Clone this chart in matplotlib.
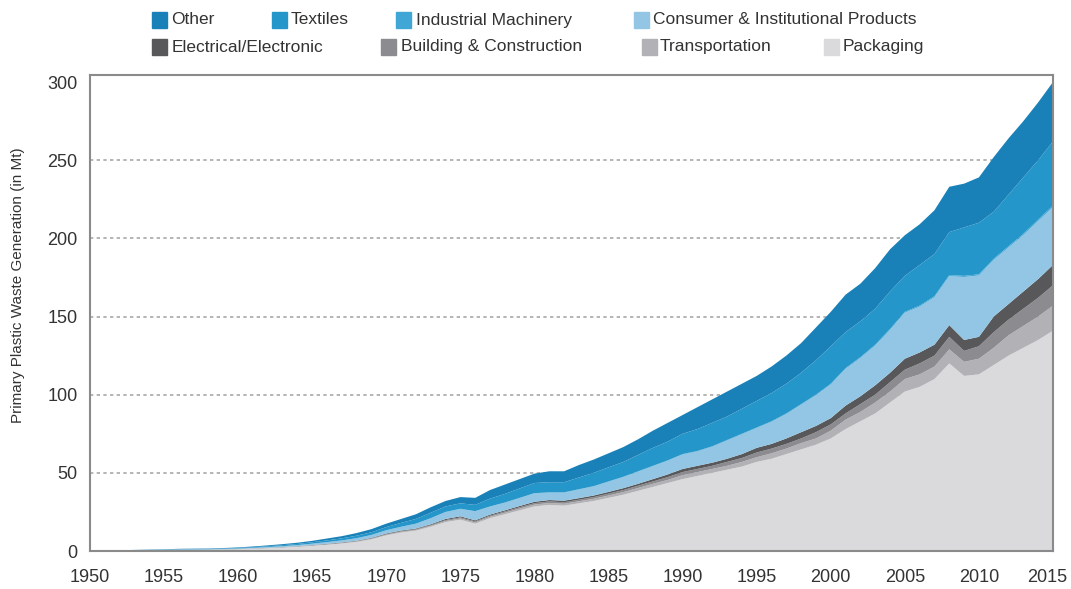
import matplotlib
matplotlib.use("Agg")
import matplotlib.pyplot as plt
from matplotlib.patches import Rectangle
from matplotlib.transforms import ScaledTranslation

plt.rcParams['font.family'] = ['Liberation Sans', 'DejaVu Sans']

years = list(range(1950, 2016))

# Mt per sector
packaging = [0.15, 0.2, 0.25, 0.35, 0.45, 0.55, 0.7, 0.75, 0.8, 0.95,
             1.15, 1.45, 1.8, 2.2, 2.7, 3.3, 4.0, 4.8, 5.8, 7.5,
             10.0, 11.8, 13.0, 15.5, 18.5, 20.0, 17.5, 21.0, 23.5, 26.0,
             28.5, 29.5, 29.0, 30.5, 32.0, 34.0, 36.0, 38.5, 41.0, 43.5,
             46.0, 48.0, 50.0, 52.0, 54.0, 57.0, 59.0, 62.0, 65.0, 68.0,
             72.0, 78.0, 83.0, 88.0, 95.0, 102.0, 105.0, 110.0, 120.0, 112.0,
             113.0, 119.0, 125.0, 130.0, 135.0, 141.0]
transportation = [0.01, 0.01, 0.02, 0.02, 0.03, 0.03, 0.04, 0.05, 0.05, 0.05,
                  0.07, 0.08, 0.1, 0.13, 0.15, 0.2, 0.2, 0.2, 0.3, 0.3,
                  0.4, 0.5, 0.5, 0.6, 0.7, 0.8, 0.8, 0.9, 1.0, 1.1,
                  1.2, 1.2, 1.2, 1.3, 1.4, 1.5, 1.7, 1.8, 2.0, 2.0,
                  2.5, 2.5, 2.5, 2.5, 3.0, 3.0, 3.5, 3.5, 4.0, 4.0,
                  5.0, 6.0, 6.0, 7.0, 7.0, 8.0, 8.0, 8.0, 9.0, 9.0,
                  10.0, 11.0, 13.0, 14.0, 15.0, 16.0]
building = [0.01, 0.01, 0.01, 0.02, 0.02, 0.03, 0.03, 0.04, 0.04, 0.05,
            0.06, 0.07, 0.1, 0.1, 0.12, 0.15, 0.2, 0.25, 0.3, 0.3,
            0.4, 0.4, 0.5, 0.5, 0.6, 0.7, 0.7, 0.7, 0.8, 0.9,
            0.9, 1.0, 1.0, 1.0, 1.1, 1.2, 1.3, 1.5, 1.5, 1.8,
            2.0, 2.0, 2.0, 2.5, 2.5, 3.0, 3.0, 3.0, 3.0, 4.0,
            4.0, 4.0, 5.0, 5.0, 6.0, 6.0, 7.0, 7.0, 8.0, 7.0,
            8.0, 10.0, 10.0, 11.0, 12.0, 13.0]
electrical = [0.01, 0.01, 0.01, 0.02, 0.02, 0.03, 0.03, 0.03, 0.04, 0.05,
              0.05, 0.07, 0.08, 0.1, 0.13, 0.15, 0.2, 0.25, 0.2, 0.3,
              0.4, 0.4, 0.4, 0.5, 0.7, 0.7, 0.6, 0.7, 0.7, 0.8,
              0.9, 0.9, 1.0, 1.0, 1.0, 1.1, 1.2, 1.2, 1.5, 1.7,
              2.0, 2.0, 2.0, 2.0, 2.5, 3.0, 3.0, 3.5, 4.0, 4.0,
              4.0, 5.0, 5.0, 6.0, 6.0, 7.0, 7.0, 7.0, 7.5, 7.0,
              6.0, 10.0, 10.0, 11.0, 12.0, 13.0]
consumer = [0.03, 0.05, 0.06, 0.08, 0.1, 0.13, 0.17, 0.18, 0.19, 0.23,
            0.29, 0.37, 0.46, 0.56, 0.68, 0.88, 1.08, 1.27, 1.57, 1.86,
            2.05, 2.34, 3.03, 3.82, 4.41, 4.7, 5.8, 5.09, 4.88, 5.07,
            5.35, 4.75, 5.14, 5.53, 5.82, 6.5, 7.09, 7.78, 8.27, 8.76,
            9.25, 9.23, 10.21, 11.69, 12.67, 12.65, 14.13, 15.61, 17.59, 19.57,
            21.55, 23.5, 24.48, 25.45, 27.42, 29.4, 29.38, 30.35, 31.3, 40.3,
            39.28, 36.24, 36.2, 36.15, 37.1, 37.05]
industrial = [0, 0, 0, 0, 0, 0, 0, 0, 0, 0,
              0.01, 0.01, 0.01, 0.01, 0.02, 0.02, 0.02, 0.03, 0.03, 0.04,
              0.05, 0.06, 0.07, 0.08, 0.09, 0.1, 0.1, 0.11, 0.12, 0.13,
              0.15, 0.15, 0.16, 0.17, 0.18, 0.2, 0.21, 0.22, 0.23, 0.24,
              0.25, 0.27, 0.29, 0.31, 0.33, 0.35, 0.37, 0.39, 0.41, 0.43,
              0.45, 0.5, 0.52, 0.55, 0.58, 0.6, 0.62, 0.65, 0.7, 0.7,
              0.72, 0.76, 0.8, 0.85, 0.9, 0.95]
textiles = [0.05, 0.06, 0.07, 0.1, 0.14, 0.16, 0.21, 0.22, 0.23, 0.27,
            0.32, 0.4, 0.5, 0.65, 0.7, 0.9, 1.1, 1.3, 1.6, 1.7,
            2.0, 2.5, 3.0, 3.5, 3.5, 3.5, 4.0, 5.0, 5.5, 6.0,
            6.5, 6.5, 6.5, 7.5, 8.5, 9.0, 9.5, 10.5, 11.5, 12.0,
            13.0, 14.0, 15.0, 15.0, 16.0, 17.0, 18.0, 19.0, 20.0, 22.0,
            24.0, 23.0, 23.0, 23.0, 24.0, 23.0, 26.0, 27.0, 27.5, 31.0,
            33.0, 30.0, 33.0, 36.0, 38.0, 41.0]
other = [0.04, 0.06, 0.08, 0.11, 0.14, 0.17, 0.22, 0.23, 0.25, 0.3,
         0.35, 0.45, 0.55, 0.65, 0.8, 0.9, 1.2, 1.4, 1.7, 2.0,
         2.2, 2.5, 3.0, 3.5, 3.5, 4.0, 4.5, 5.5, 6.0, 6.0,
         6.0, 7.0, 7.0, 8.0, 8.5, 9.0, 9.5, 10.0, 11.0, 12.0,
         12.0, 14.0, 15.0, 16.0, 16.0, 16.0, 17.0, 18.0, 19.0, 21.0,
         22.0, 24.0, 24.0, 26.0, 27.0, 26.0, 26.0, 28.0, 29.0, 28.0,
         29.0, 35.0, 36.0, 36.0, 37.0, 38.0]

series = [packaging, transportation, building, electrical,
          consumer, industrial, textiles, other]
colors = ['#dadadc', '#b2b2b6', '#8c8c90', '#58585b',
          '#92c6e4', '#3fa6d6', '#2596c9', '#1a81b8']

legend_rows = [
    [('Other', '#1a81b8', 152, 171), ('Textiles', '#2596c9', 272, 291),
     ('Industrial Machinery', '#3fa6d6', 396, 416),
     ('Consumer & Institutional Products', '#92c6e4', 634, 653)],
    [('Electrical/Electronic', '#58585b', 152, 172),
     ('Building & Construction', '#8c8c90', 381, 401),
     ('Transportation', '#b2b2b6', 642, 660), ('Packaging', '#dadadc', 824, 843)],
]

W, H = 1071, 589
fig = plt.figure(figsize=(W / 100, H / 100), dpi=100)
ax = fig.add_axes([90 / W, 1 - 551 / H, (1053 - 90) / W, (551 - 75) / H])

ax.stackplot(years, *series, colors=colors, linewidth=0, zorder=2)

for v in [50, 100, 150, 200, 250]:
    ax.axhline(v, color='#a8a8a8', lw=1.2, ls=(0, (2, 2)), zorder=1)

ax.set_xlim(1950, 2015)
ax.set_ylim(0, 304.5)
ax.set_xticks(range(1950, 2016, 5))
ax.set_yticks(range(0, 301, 50))
ax.tick_params(length=0, labelsize=13, colors='#333333')
ax.tick_params(axis='y', pad=9)
ax.tick_params(axis='x', pad=13)
# last year label sits a bit left so it stays inside the figure
last = ax.get_xticklabels()[-1]
last.set_transform(last.get_transform() + ScaledTranslation(-0.06, 0, fig.dpi_scale_trans))
for s in ax.spines.values():
    s.set_color('#8a8a8a')
    s.set_linewidth(1.5)
    s.set_zorder(3)

fig.text(18 / W, 1 - 285 / H, 'Primary Plastic Waste Generation (in Mt)',
         rotation=90, ha='center', va='center', fontsize=11, color='#333333')

for row_y, row in zip([20, 47], legend_rows):
    for label, c, xs, xt in row:
        fig.add_artist(Rectangle((xs / W, 1 - (row_y + 7.5) / H), 15 / W, 15 / H,
                                 color=c, transform=fig.transFigure))
        fig.text(xt / W, 1 - row_y / H, label, ha='left', va='center',
                 fontsize=12.5, color='#333333')

fig.savefig('out.png', dpi=100)
